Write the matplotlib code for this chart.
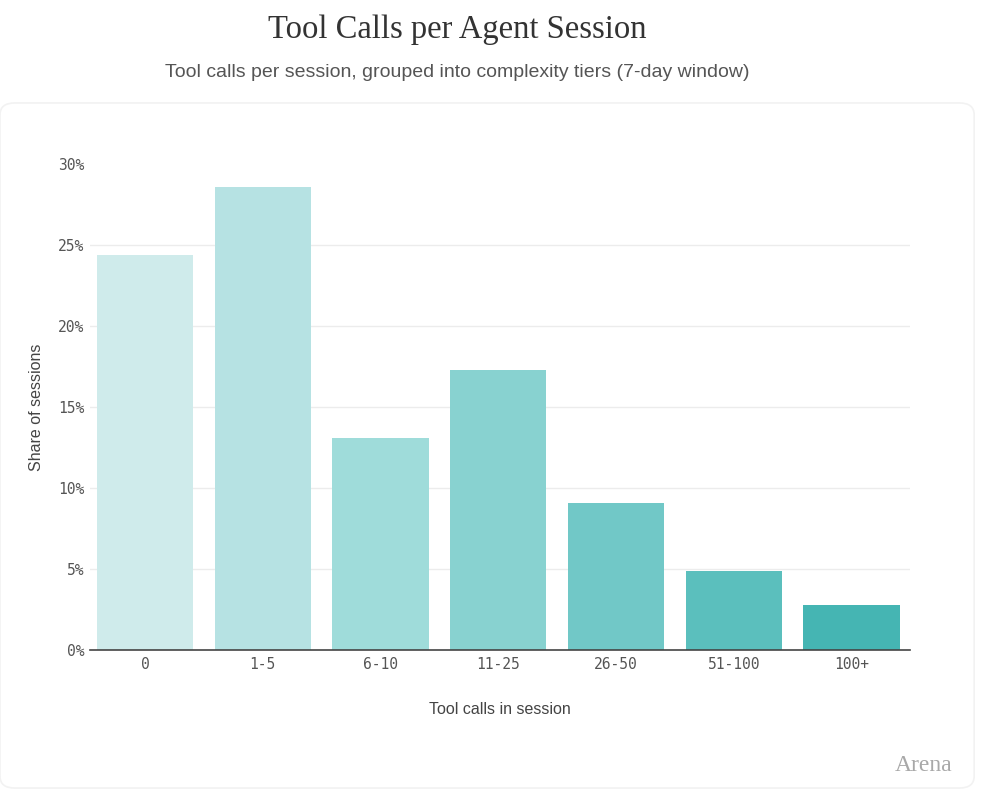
import numpy as np
import matplotlib.pyplot as plt
from matplotlib.patches import FancyBboxPatch

# data
tiers = ["0", "1-5", "6-10", "11-25", "26-50", "51-100", "100+"]
share = [24.4, 28.6, 13.1, 17.3, 9.1, 4.9, 2.8]
colors = ["#cfebeb", "#b6e2e3", "#9fdcda", "#88d2d0", "#71c8c7", "#5bbfbd", "#45b5b3"]
yticks = [0, 5, 10, 15, 20, 25, 30]

fig = plt.figure(figsize=(9.84, 7.92), dpi=100)
fig.patch.set_facecolor("white")

# card behind the chart
card = FancyBboxPatch((0.0, 0.005), 0.99, 0.865, boxstyle="round,pad=0,rounding_size=0.015",
                      transform=fig.transFigure, fc="white", ec="#f2f2f2", lw=1.2, zorder=-5)
fig.patches.append(card)

ax = fig.add_axes([0.0915, 0.1793, 0.8333, 0.6136])
ax.set_facecolor("none")

x = np.arange(len(tiers))
ax.bar(x, share, width=0.816, color=colors, zorder=2)

ax.set_xlim(-0.467, len(tiers) - 0.503)
ax.set_ylim(0, 30)
ax.set_yticks(yticks)
ax.set_yticklabels([f"{v}%" for v in yticks])
ax.set_xticks(x)
ax.set_xticklabels(tiers)

for v in yticks[1:-1]:
    ax.axhline(v, color="#ececec", lw=1, zorder=1)

for s in ["top", "right", "left"]:
    ax.spines[s].set_visible(False)
ax.spines["bottom"].set_color("#444444")
ax.spines["bottom"].set_linewidth(1.2)
ax.spines["bottom"].set_zorder(3)

ax.tick_params(axis="y", length=0, pad=4, labelsize=10.5, labelcolor="#555555")
ax.tick_params(axis="x", length=0, pad=5, labelsize=10.5, labelcolor="#555555")
for lab in ax.get_xticklabels() + ax.get_yticklabels():
    lab.set_family("DejaVu Sans Mono")

ax.set_ylabel("Share of sessions", fontsize=11.5, color="#444444", labelpad=10,
              family=["Liberation Sans", "DejaVu Sans"])
ax.set_xlabel("Tool calls in session", fontsize=11.5, color="#444444", labelpad=22,
              family=["Liberation Sans", "DejaVu Sans"])

fig.text(0.465, 0.962, "Tool Calls per Agent Session", ha="center", va="center",
         fontsize=23.5, color="#333333", family=["Liberation Serif", "DejaVu Serif"])
fig.text(0.465, 0.908, "Tool calls per session, grouped into complexity tiers (7-day window)",
         ha="center", va="center", fontsize=14, color="#555555",
         family=["Liberation Sans Narrow", "Liberation Sans", "DejaVu Sans"])

fig.text(0.968, 0.033, "Arena", ha="right", va="center", fontsize=17, color="#a8a8a8",
         family=["Liberation Serif", "DejaVu Serif"])

fig.savefig("out.png", dpi=100)
